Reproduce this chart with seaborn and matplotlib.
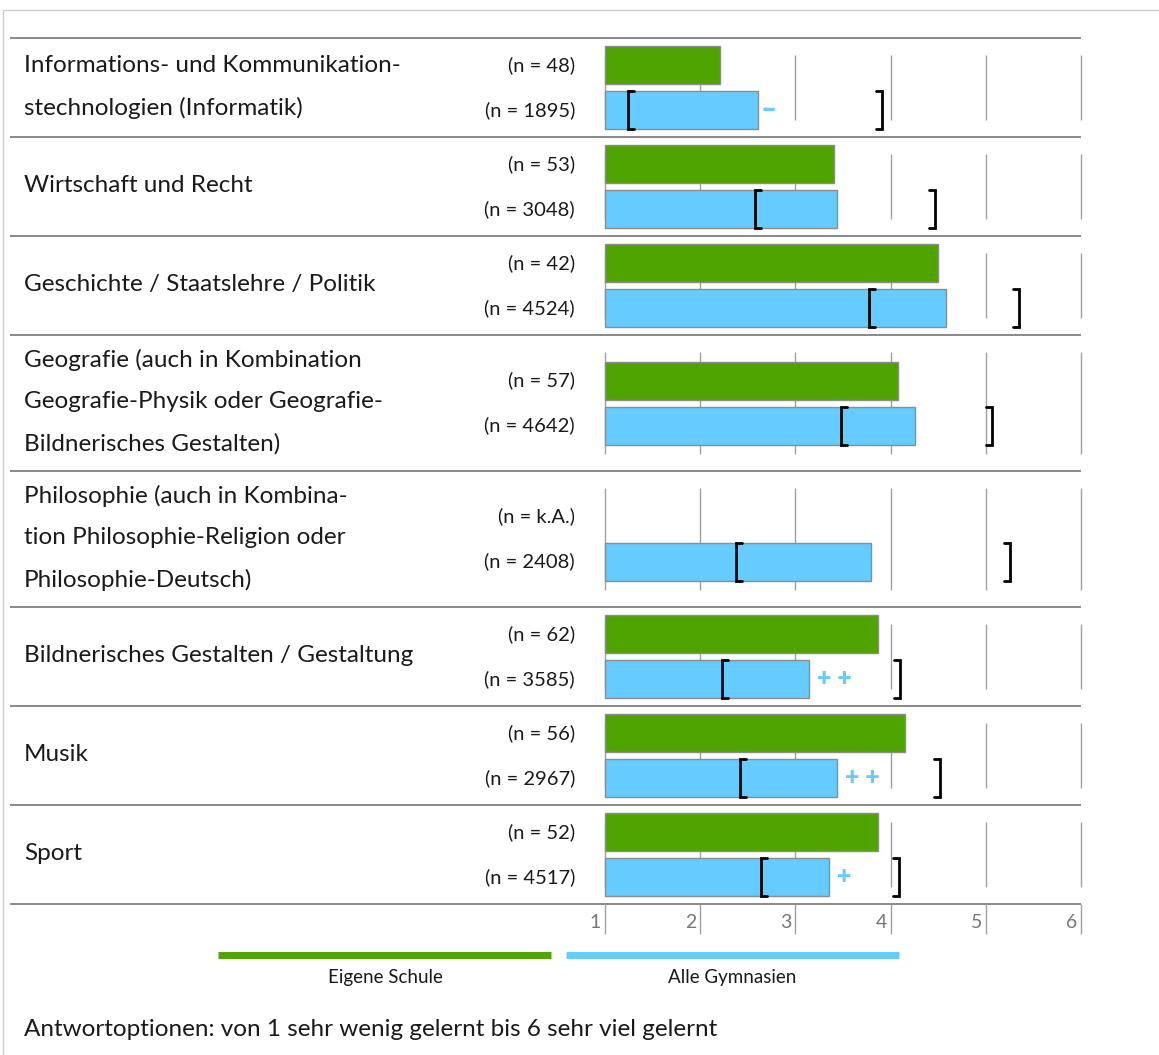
import pandas as pd
import numpy as np
import matplotlib
matplotlib.use("Agg")
import matplotlib.pyplot as plt
import seaborn as sns

# --- data ---
subjects = [
    "Informations- und Kommunikation-\nstechnologien (Informatik)",
    "Wirtschaft und Recht",
    "Geschichte / Staatslehre / Politik",
    "Geografie (auch in Kombination\nGeografie-Physik oder Geografie-\nBildnerisches Gestalten)",
    "Philosophie (auch in Kombina-\ntion Philosophie-Religion oder\nPhilosophie-Deutsch)",
    "Bildnerisches Gestalten / Gestaltung",
    "Musik",
    "Sport",
]
n_school = ["48", "53", "42", "57", "k.A.", "62", "56", "52"]
n_all = ["1895", "3048", "4524", "4642", "2408", "3585", "2967", "4517"]
school_mean = [2.21, 3.41, 4.50, 4.08, np.nan, 3.87, 4.15, 3.87]
all_mean = [2.61, 3.44, 4.58, 4.26, 3.79, 3.14, 3.44, 3.35]
ci_low = [1.24, 2.58, 3.77, 3.48, 2.38, 2.23, 2.42, 2.64]
ci_high = [3.91, 4.47, 5.35, 5.06, 5.25, 4.10, 4.52, 4.09]
signif = ["\u2013", "", "", "", "", "+ +", "+ +", "+"]
scale_ticks = [1, 2, 3, 4, 5, 6]
series_names = ["Eigene Schule", "Alle Gymnasien"]
footnote = "Antwortoptionen: von 1 sehr wenig gelernt bis 6 sehr viel gelernt"

GREEN = "#4fa400"
BLUE = "#66ccff"
palette = {series_names[0]: GREEN, series_names[1]: BLUE}

sns.set_theme(style="white")
plt.rcParams["font.family"] = ["Lato", "DejaVu Sans"]

W, H = 1159, 1055
fig = plt.figure(figsize=(W / 100, H / 100), dpi=100)
ax = fig.add_axes([0, 0, 1, 1])

# pixel layout helpers: score 1 sits at x=605, 95.2 px per scale point
X0, UNIT = 605, 95.2


def sx(px):
    return (px - X0) / UNIT


# group geometry (y in pixels, top-down)
tops = []
centers = []
top = 38
rows = []
for i, subj in enumerate(subjects):
    h = 99 if subj.count("\n") < 2 else 136
    c = top + h / 2
    tops.append(top)
    centers.append(c)
    rows.append(dict(pos=c - 22.5, series=series_names[0], score=school_mean[i]))
    rows.append(dict(pos=c + 22.5, series=series_names[1], score=all_mean[i]))
    top += h
bottom = top

df = pd.DataFrame(rows).dropna()
df["bar"] = df["score"] - 1  # bars start at scale value 1

sns.barplot(data=df, x="bar", y="pos", hue="series", hue_order=series_names,
            orient="y", native_scale=True, dodge=False, width=38 / 45,
            palette=palette, saturation=1, edgecolor="#8c8c8c", linewidth=1,
            errorbar=None, legend=False, ax=ax, zorder=3)

ax.set_xlim(sx(0), sx(W))
ax.set_ylim(H, 0)
ax.axis("off")

grid_x = [t - 1 for t in scale_ticks]
TEXT = "#1a1a1a"

# per-group grid segments, separators and labels
for i, subj in enumerate(subjects):
    g_top = tops[i]
    g_bot = tops[i + 1] if i + 1 < len(tops) else bottom
    ax.vlines(grid_x, g_top + 17, g_bot - 17, color="#a0a0a0", lw=1, zorder=1)
    ax.hlines(g_top, sx(10), sx(1081), color="#808080", lw=1.3, zorder=2)

    lines = subj.split("\n")
    pitch = 42
    y0 = centers[i] - pitch * (len(lines) - 1) / 2
    for k, line in enumerate(lines):
        ax.text(sx(24), y0 + k * pitch - 1, line, ha="left", va="center",
                fontsize=17.5, color=TEXT)

    cg = centers[i] - 22.5
    cb = centers[i] + 22.5
    ax.text(sx(575), cg, f"(n = {n_school[i]})", ha="right", va="center",
            fontsize=14.5, color=TEXT)
    ax.text(sx(575), cb, f"(n = {n_all[i]})", ha="right", va="center",
            fontsize=14.5, color=TEXT)

    # confidence brackets around the all-schools mean
    d = 6 / UNIT
    lo, hi = ci_low[i] - 1, ci_high[i] - 1
    ax.plot([lo + d, lo, lo, lo + d], [cb - 19, cb - 19, cb + 19, cb + 19],
            color="black", lw=2, zorder=4, solid_joinstyle="miter")
    ax.plot([hi - d, hi, hi, hi - d], [cb - 19, cb - 19, cb + 19, cb + 19],
            color="black", lw=2, zorder=4, solid_joinstyle="miter")

    if signif[i]:
        if signif[i] == "\u2013":
            size, off = 20, 2
        else:
            size, off = 18, 8
        ax.text(all_mean[i] - 1 + off / UNIT, cb, signif[i], ha="left",
                va="center", fontsize=size, fontweight="heavy", color=BLUE)

# bottom axis
ax.hlines(bottom, sx(10), sx(1081), color="#808080", lw=1.3)
ax.vlines(grid_x, bottom, bottom + 30, color="#a0a0a0", lw=1)
for t, gx in zip(scale_ticks, grid_x):
    ax.text(gx - 4 / UNIT, bottom + 19, str(t), ha="right", va="center",
            fontsize=14, color="#777777")

# legend
ax.hlines(955, sx(218), sx(551), color=GREEN, lw=5)
ax.hlines(955, sx(566), sx(899), color=BLUE, lw=5)
ax.text(sx(385), 978, series_names[0], ha="center", va="center",
        fontsize=13.5, color=TEXT)
ax.text(sx(732), 978, series_names[1], ha="center", va="center",
        fontsize=13.5, color=TEXT)

ax.text(sx(24), 1030, footnote, ha="left", va="center", fontsize=17.5,
        color=TEXT)

# outer frame
ax.hlines(10, sx(3), sx(W), color="#cccccc", lw=1)
ax.vlines(sx(3), 10, H, color="#cccccc", lw=1)

fig.savefig("out.png", dpi=100)
